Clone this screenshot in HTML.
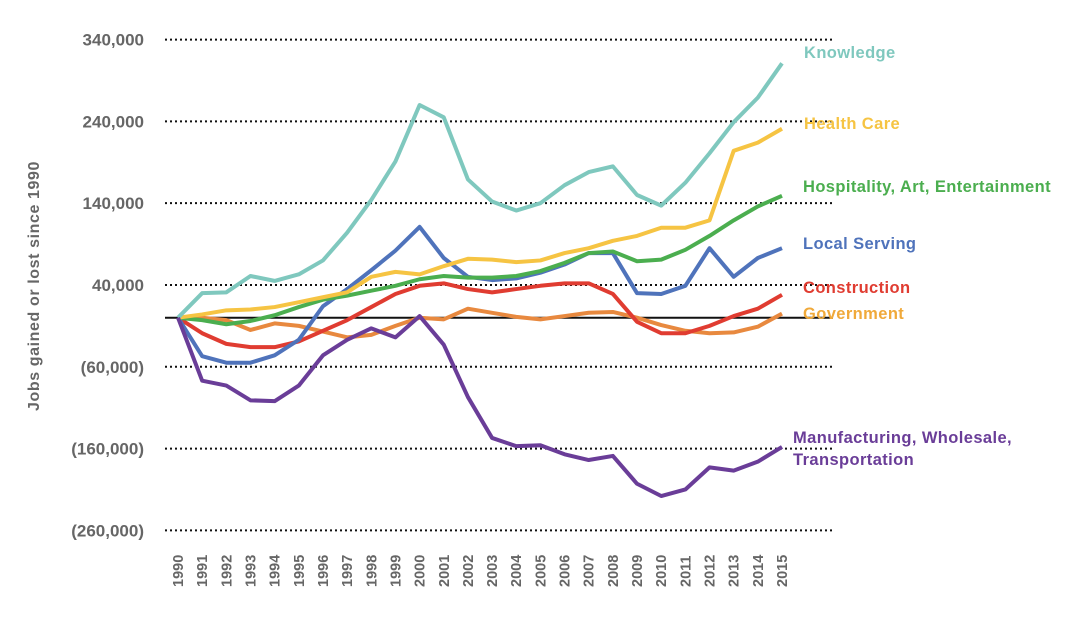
<!DOCTYPE html>
<html><head><meta charset="utf-8"><style>
body{margin:0;background:#fff;font-family:"Liberation Sans",sans-serif}
svg text{font-family:"Liberation Sans",sans-serif;font-weight:bold}
</style></head><body>
<svg id="chart" width="1080" height="613" viewBox="0 0 1080 613" xmlns="http://www.w3.org/2000/svg">
<text transform="translate(39,286) rotate(-90)" text-anchor="middle" font-size="16" letter-spacing="0.6" fill="#666">Jobs gained or lost since 1990</text>
<g id="grid"></g><g id="lines"></g><g id="labels"></g>
</svg>
<script>
const years=[1990,1991,1992,1993,1994,1995,1996,1997,1998,1999,2000,2001,2002,2003,2004,2005,2006,2007,2008,2009,2010,2011,2012,2013,2014,2015];
const yTicks=[340000,240000,140000,40000,-60000,-160000,-260000];
const yTickLabels=["340,000","240,000","140,000","40,000","(60,000)","(160,000)","(260,000)"];
const knowledge=[0,30,31,51,45,53,70,104,144,191,260,245,169,142,131,140,162,178,185,150,137,165,201,239,269,311];
const healthCare=[0,4,9,10,13,19,25,31,50,56,53,63,72,71,68,70,79,85,94,100,110,110,119,204,214,231];
const hospitality=[0,-3,-8,-4,3,13,22,27,33,39,47,51,49,49,51,57,67,79,81,69,71,83,100,119,136,149];
const localServing=[0,-47,-55,-55,-46,-27,14,35,58,82,111,73,50,46,48,55,65,79,79,30,29,39,85,50,73,85];
const construction=[0,-19,-32,-36,-36,-29,-16,-3,13,29,39,42,35,31,35,39,42,42,29,-5,-19,-19,-10,2,11,28];
const government=[0,0,-3,-15,-7,-10,-17,-24,-21,-10,0,-2,11,6,1,-2,2,6,7,0,-9,-16,-19,-18,-11,5];
const manufacturing=[0,-77,-83,-101,-102,-83,-46,-27,-13,-24,2,-33,-97,-147,-157,-156,-167,-174,-169,-203,-218,-210,-183,-187,-176,-158];
const NS="http://www.w3.org/2000/svg";
const x=i=>178+i*24.16;
const y=v=>317.7-v*0.000818;
function mk(t,a,p){const e=document.createElementNS(NS,t);for(const k in a)e.setAttribute(k,a[k]);p.appendChild(e);return e;}
const grid=document.getElementById('grid');
yTicks.forEach((v,i)=>{
 const l=mk('line',{x1:165,x2:833,y1:y(v),y2:y(v),stroke:'#111','stroke-width':2,'stroke-dasharray':'2 3'},grid);
 
 
 const t=mk('text',{x:144,y:y(v)+6,'text-anchor':'end','font-size':17,fill:'#666'},grid);
 t.textContent=yTickLabels[i];
 
 
});
const z=mk('line',{x1:165,x2:833,y1:y(0),y2:y(0),stroke:'#111','stroke-width':2},grid);


years.forEach((yr,i)=>{
 const t=mk('text',{transform:`translate(${x(i)+5},587) rotate(-90)`,'font-size':14.5,fill:'#666'},grid);
 t.textContent=yr;
 
 
});
const series=[
 [government,'#e8893f','government-line'],
 [construction,'#e03c31','construction-line'],
 [localServing,'#4f73bb','local-serving-line'],
 [hospitality,'#4bae4f','hospitality-line'],
 [healthCare,'#f6c443','health-care-line'],
 [knowledge,'#7fc8be','knowledge-line'],
 [manufacturing,'#6a3d98','manufacturing-line']];
const lines=document.getElementById('lines');
series.forEach(([d,c,n])=>{
 const p=mk('polyline',{points:d.map((v,i)=>x(i)+','+y(v*1000)).join(' '),fill:'none',stroke:c,'stroke-width':4,'stroke-linejoin':'round'},lines);
 
 
});
const labs=[["Knowledge",804,58,'#7fc8be'],["Health Care",804,129,'#f6c443'],["Hospitality, Art, Entertainment",803,192,'#4bae4f'],["Local Serving",803,249,'#4f73bb'],["Construction",803,293,'#e03c31'],["Government",803,319,'#f0a93a'],["Manufacturing, Wholesale,",793,443,'#6a3d98'],["Transportation",793,465,'#6a3d98']];
const lg=document.getElementById('labels');
labs.forEach(([s,xx,yy,c])=>{
 const t=mk('text',{x:xx,y:yy,'font-size':16.5,'letter-spacing':0.4,fill:c},lg);
 t.textContent=s;
 
 
});
</script>
</body></html>
